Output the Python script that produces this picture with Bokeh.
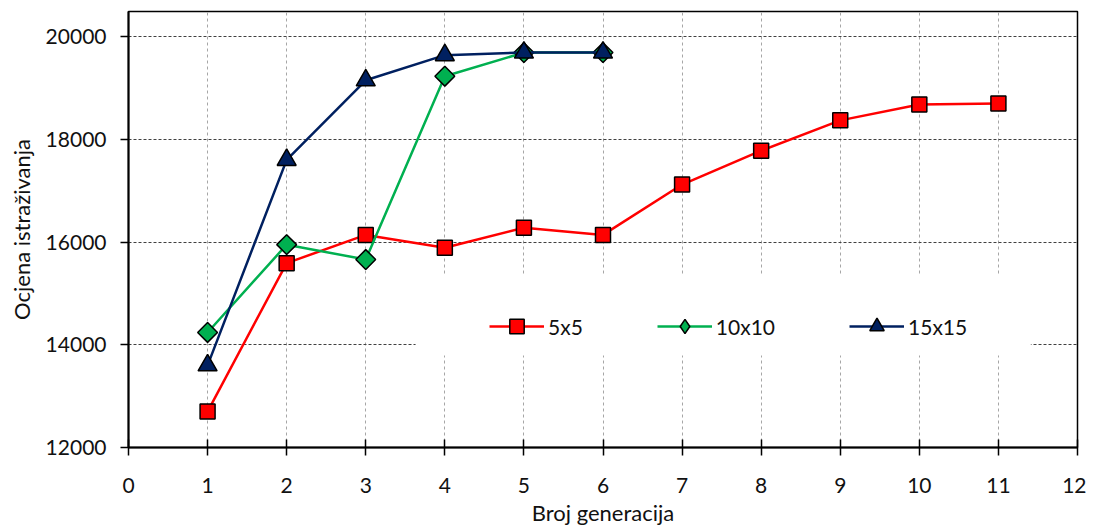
import math
from bokeh.plotting import figure
from bokeh.models import Range1d, FixedTicker, Legend, LegendItem, BoxAnnotation
from bokeh.embed import file_html
from bokeh.resources import INLINE

generations = [1, 2, 3, 4, 5, 6, 7, 8, 9, 10, 11]
gen_short = [1, 2, 3, 4, 5, 6]
s5x5 = [12700, 15590, 16140, 15890, 16280, 16140, 17120, 17780, 18370, 18680, 18700]
s10x10 = [14240, 15950, 15660, 19230, 19690, 19690]
s15x15 = [13600, 17600, 19150, 19640, 19690, 19690]
series_names = ["5x5", "10x10", "15x15"]
x_ticks = list(range(0, 13))
y_ticks = [12000, 14000, 16000, 18000, 20000]

FONT = "Lato"

p = figure(frame_width=949, frame_height=436, output_backend="svg", toolbar_location=None,
           x_range=Range1d(0, 12), y_range=Range1d(12000, 20490),
           min_border_left=128, min_border_right=9, min_border_top=11, min_border_bottom=76)
p.background_fill_color = "white"
p.border_fill_color = "white"
p.outline_line_color = "black"
p.outline_line_width = 1.5

p.xaxis.ticker = FixedTicker(ticks=x_ticks)
p.yaxis.ticker = FixedTicker(ticks=y_ticks)
p.xgrid.ticker = FixedTicker(ticks=x_ticks[1:-1])
p.ygrid.ticker = FixedTicker(ticks=y_ticks[1:])
p.xgrid.grid_line_color = "#a6a6a6"
p.xgrid.grid_line_dash = "3 3"
p.xgrid.grid_line_width = 1
p.ygrid.grid_line_color = "#404040"
p.ygrid.grid_line_dash = "3 2"
p.ygrid.grid_line_width = 1

for ax in (p.xaxis[0], p.yaxis[0]):
    ax.axis_line_color = "black"
    ax.axis_line_width = 2
    ax.major_tick_line_color = "black"
    ax.major_tick_line_width = 1.5
    ax.minor_tick_line_color = None
    ax.major_label_text_font = FONT
    ax.major_label_text_font_size = "21px"
    ax.major_label_text_color = "#111111"
    ax.axis_label_text_font = FONT
    ax.axis_label_text_font_size = "22px"
    ax.axis_label_text_font_style = "normal"
    ax.axis_label_text_color = "#111111"

p.xaxis.major_tick_in = 8
p.xaxis.major_tick_out = 8
p.yaxis.major_tick_in = 0
p.yaxis.major_tick_out = 8
p.xaxis.major_label_standoff = 22
p.yaxis.major_label_standoff = 14
p.xaxis.axis_label = "Broj generacija"
p.yaxis.axis_label = "Ocjena istraživanja"
p.xaxis.axis_label_standoff = 3
p.yaxis.axis_label_standoff = 8

# white area behind the legend (hides the grid there)
p.add_layout(BoxAnnotation(left=3.63, right=11.41, bottom=13790, top=15350,
                           fill_color="white", fill_alpha=1.0, line_alpha=0))

colors = ["#ff0000", "#00b050", "#002060"]
markers = ["square", "square", "triangle"]
legend_markers = ["square", "diamond", "triangle"]
angles = [0, math.pi / 4, 0]
sizes = [15, 14, 19]
xs = [generations, gen_short, gen_short]
ys = [s5x5, s10x10, s15x15]

items = []
for name, c, m, lm, a, sz, x, y in zip(series_names, colors, markers, legend_markers,
                                       angles, sizes, xs, ys):
    r1 = p.line(x, y, line_color=c, line_width=2.5)
    leg_r = None
    if lm != m:
        # diamond used for the legend; hidden under the rotated square on the plot
        leg_r = p.scatter(x, y, marker=lm, size=18, fill_color=c, line_color="black", line_width=1.5)
    r2 = p.scatter(x, y, marker=m, size=sz, angle=a, fill_color=c, line_color="black", line_width=1.5)
    items.append(LegendItem(label=name, renderers=[r1, leg_r if leg_r is not None else r2]))

legend = Legend(items=items, orientation="horizontal", location=(361, 103),
                glyph_width=55, glyph_height=36, label_standoff=4, spacing=74,
                padding=10, border_line_color=None, background_fill_alpha=0,
                label_text_font=FONT, label_text_font_size="21px",
                label_text_color="#111111")
p.add_layout(legend, "center")

open("out.html", "w").write(file_html(p, INLINE))
